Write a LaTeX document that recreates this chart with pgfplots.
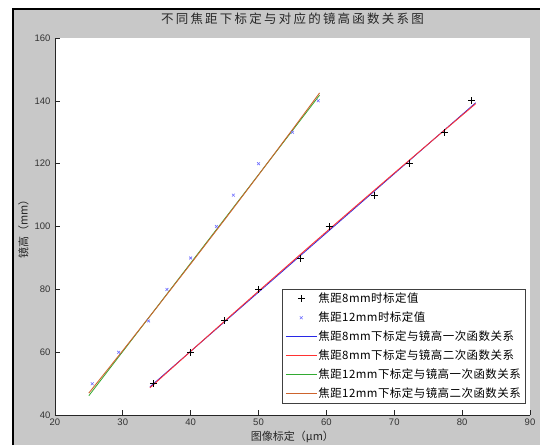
\documentclass[border=0pt]{standalone}
\usepackage{fontspec}
\setmainfont{Liberation Sans}
\newfontfamily\cjk{Noto Sans CJK SC}
\newfontfamily\cjklegend[LetterSpace=4]{Noto Sans CJK SC}
\newfontfamily\cjktitle[LetterSpace=18]{Noto Sans CJK SC}
\usepackage{pgfplots}
\pgfplotsset{compat=1.18}
\definecolor{figgray}{RGB}{200,200,200}
\definecolor{fitblue}{RGB}{40,40,230}
\definecolor{fitred}{RGB}{255,50,50}
\definecolor{fitgreen}{RGB}{50,170,50}
\definecolor{fitbrown}{RGB}{205,100,45}
\definecolor{markblue}{RGB}{110,110,255}
\begin{document}
\begin{tikzpicture}
\fill[white] (0pt,0pt) rectangle (541pt,446pt);
\fill[figgray] (13pt,0pt) rectangle (541pt,437pt);
\draw[black, line width=2pt] (13pt,0pt) -- (13pt,437pt) -- (541pt,437pt);
\begin{axis}[
  at={(55pt,30pt)}, anchor=south west,
  width=476pt, height=378pt, scale only axis,
  xmin=20, xmax=90, ymin=40, ymax=160,
  xtick={20,30,...,90}, ytick={40,60,...,160},
  axis x line*=bottom, axis y line*=left,
  axis line style={-, black!85, line width=0.6pt},
  tick align=inside, major tick length=5pt,
  tick style={black!85, line width=0.6pt},
  axis background/.style={fill=white},
  /pgf/number format/assume math mode=true,
  tick label style={font=\fontsize{9.5}{10}\selectfont, text=black!80},
  yticklabel style={xshift=-1pt},
  title={\cjktitle\fontsize{12.5}{14}\selectfont 不同焦距下标定与对应的镜高函数关系图},
  title style={at={(axis description cs:0.5,1.034)}, anchor=center, text=black!85},
  xlabel={\cjk\fontsize{11}{12}\selectfont 图像标定（μm）},
  xlabel style={at={(axis description cs:0.5,-0.058)}, anchor=center, text=black!85},
  ylabel={\cjk\fontsize{11}{12}\selectfont 镜高（mm）},
  ylabel style={at={(axis description cs:-0.066,0.5)}, anchor=center, rotate=0, text=black!85},
  legend image code/.code={\draw[mark repeat=2,mark phase=2,#1] plot coordinates {(0pt,0pt) (15.5pt,0pt) (31pt,0pt)};},
  legend style={at={(0.9895,0.0317)}, anchor=south east, draw=black!75, fill=white,
    font=\cjklegend\fontsize{11.5}{12}\selectfont, inner xsep=3pt, inner ysep=3.5pt, row sep=7pt,
    nodes={inner ysep=0pt, inner xsep=1pt, text height=9.5pt, text depth=2.5pt}},
  legend cell align=left,
]
\addplot[only marks, mark=+, mark size=3.5pt, black, line width=1pt] coordinates {
 (34.5,50) (40,60) (45,70) (50,80) (56.2,90) (60.4,100) (67.1,110) (72.2,120) (77.4,130) (81.4,140)};
\addlegendentry{焦距8mm时标定值}
\addplot[only marks, mark=x, mark size=2pt, markblue, line width=0.6pt] coordinates {
 (25.5,50) (29.4,60) (33.8,70) (36.5,80) (40,90) (43.8,100) (46.3,110) (50,120) (55,130) (58.8,140)};
\addlegendentry{焦距12mm时标定值}
\addplot[fitblue, line width=0.8pt, legend image post style={line width=1.2pt}] coordinates {
 (34,49.02) (40,60.32) (46,71.61) (52,82.91) (58,94.21) (64,105.50) (70,116.80) (76,128.10) (82,139.39)};
\addlegendentry{焦距8mm下标定与镜高一次函数关系}
\addplot[fitred, line width=0.9pt, legend image post style={line width=1.2pt}] coordinates {
 (34,48.72) (40,60.32) (46,71.83) (52,83.26) (58,94.60) (64,105.85) (70,117.02) (76,128.10) (82,139.09)};
\addlegendentry{焦距8mm下标定与镜高二次函数关系}
\addplot[fitgreen, line width=0.8pt, legend image post style={line width=1.2pt}] coordinates {
 (25,46.2) (59,141.8)};
\addlegendentry{焦距12mm下标定与镜高一次函数关系}
\addplot[fitbrown, line width=0.9pt, legend image post style={line width=1.2pt}] coordinates {
 (25,47.04) (30,60.55) (35,74.25) (40,88.13) (45,102.18) (50,116.42) (55,130.84) (59,142.51)};
\addlegendentry{焦距12mm下标定与镜高二次函数关系}
\end{axis}
\end{tikzpicture}
\end{document}
